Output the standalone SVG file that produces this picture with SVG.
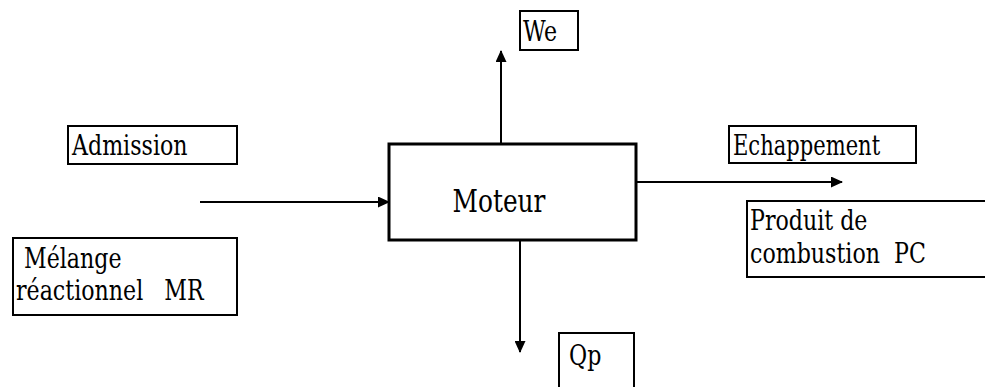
<svg xmlns="http://www.w3.org/2000/svg" width="985" height="387" viewBox="0 0 985 387">
<style>
.box{fill:#fff;stroke:#000;stroke-width:2}
.main{fill:#fff;stroke:#000;stroke-width:3}
text{font-family:'DejaVu Serif','Liberation Serif',serif;fill:#000}
.lbl{font-size:27px}
.big{font-size:31px}
.conn{stroke:#000;stroke-width:2;fill:none}
</style>
<defs>
<marker id="ah" markerWidth="12" markerHeight="11" refX="11" refY="5.5" orient="auto" markerUnits="userSpaceOnUse">
<path d="M0,0 L12,5.5 L0,11 Z" fill="#000"/>
</marker>
</defs>
<rect width="985" height="387" fill="#fff"/>
<g id="connectors">
<line class="conn" x1="200" y1="202" x2="389" y2="202" marker-end="url(#ah)"/>
<line class="conn" x1="636" y1="182" x2="842" y2="182" marker-end="url(#ah)"/>
<line class="conn" x1="501" y1="144" x2="501" y2="51" marker-end="url(#ah)"/>
<line class="conn" x1="520" y1="240" x2="520" y2="352" marker-end="url(#ah)"/>
</g>
<g id="moteur">
<rect class="main" x="389" y="144" width="247" height="96"/>
<text class="big" transform="translate(499,212) scale(0.8,1)" text-anchor="middle">Moteur</text>
</g>
<g id="we">
<rect class="box" x="520" y="11" width="58" height="39"/>
<text class="lbl" transform="translate(523,41) scale(0.82,1)">We</text>
</g>
<g id="admission">
<rect class="box" x="68" y="126" width="169" height="38"/>
<text class="lbl" transform="translate(72,155) scale(0.82,1)">Admission</text>
</g>
<g id="melange">
<rect class="box" x="13" y="238" width="224" height="77"/>
<text class="lbl" transform="translate(24,268) scale(0.82,1)">Mélange</text>
<text class="lbl" transform="translate(16,300) scale(0.82,1)" xml:space="preserve">réactionnel   MR</text>
</g>
<g id="echappement">
<rect class="box" x="729" y="126" width="187" height="37"/>
<text class="lbl" transform="translate(733,155) scale(0.78,1)">Echappement</text>
</g>
<g id="produit">
<rect class="box" x="747" y="201" width="250" height="76"/>
<text class="lbl" transform="translate(750,230) scale(0.82,1)">Produit de</text>
<text class="lbl" transform="translate(750,263) scale(0.82,1)" xml:space="preserve">combustion  PC</text>
</g>
<g id="qp">
<rect class="box" x="559" y="333" width="75" height="70"/>
<text class="lbl" transform="translate(569,365) scale(0.82,1)">Qp</text>
</g>
</svg>
